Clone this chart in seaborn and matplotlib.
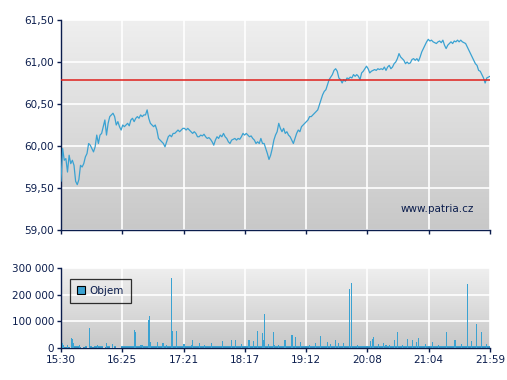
import numpy as np
import pandas as pd
import matplotlib
matplotlib.use("Agg")
import matplotlib.pyplot as plt
import seaborn as sns
from matplotlib.colors import LinearSegmentedColormap
from matplotlib.patches import Patch
from matplotlib.ticker import FuncFormatter

# ---------------- data ----------------
price = [
    59.58, 59.97, 59.83, 59.85, 59.69, 59.89, 59.79, 59.83, 59.77, 59.58,
    59.54, 59.60, 59.77, 59.75, 59.79, 59.87, 59.91, 60.03, 60.01, 59.97,
    59.93, 59.99, 60.13, 60.03, 60.13, 60.15, 60.23, 60.31, 60.13, 60.27,
    60.35, 60.37, 60.39, 60.35, 60.25, 60.29, 60.23, 60.19, 60.25, 60.23,
    60.25, 60.27, 60.24, 60.31, 60.33, 60.29, 60.33, 60.35, 60.33, 60.37,
    60.35, 60.37, 60.37, 60.43, 60.33, 60.27, 60.25, 60.23, 60.25, 60.19,
    60.09, 60.07, 60.05, 60.03, 59.99, 60.05, 60.11, 60.13, 60.11, 60.15,
    60.15, 60.17, 60.19, 60.17, 60.19, 60.21, 60.21, 60.19, 60.21, 60.19,
    60.17, 60.15, 60.17, 60.15, 60.11, 60.11, 60.13, 60.12, 60.14, 60.11,
    60.09, 60.10, 60.08, 60.05, 60.01, 60.07, 60.11, 60.09, 60.13, 60.11,
    60.15, 60.11, 60.09, 60.05, 60.03, 60.07, 60.08, 60.09, 60.07, 60.09,
    60.08, 60.11, 60.15, 60.13, 60.15, 60.13, 60.11, 60.12, 60.09, 60.07,
    60.03, 60.05, 60.03, 60.09, 60.03,
    60.03, 59.97, 59.91, 59.84, 59.89, 59.97, 60.07, 60.13, 60.17, 60.27,
    60.21, 60.17, 60.21, 60.15, 60.17, 60.13, 60.11, 60.07, 60.03, 60.09,
    60.15, 60.19, 60.17, 60.23, 60.25, 60.27, 60.29, 60.31, 60.35, 60.35,
    60.37, 60.39, 60.41, 60.43, 60.49, 60.55, 60.61, 60.65, 60.67, 60.73,
    60.79, 60.82, 60.85, 60.90, 60.92, 60.89, 60.81, 60.79, 60.75, 60.79,
    60.77, 60.81, 60.80, 60.82, 60.81, 60.85, 60.83, 60.85, 60.83, 60.79,
    60.87, 60.89, 60.92, 60.95, 60.92, 60.87, 60.89, 60.90, 60.91, 60.90,
    60.92, 60.91, 60.92, 60.91, 60.94, 60.90, 60.94, 60.96, 60.92, 60.94,
    60.98, 61.00, 61.04, 61.10, 61.06, 61.04, 61.02, 60.98, 61.00, 60.98,
    60.99, 61.03, 61.04, 61.02, 61.04, 61.01, 61.06, 61.12, 61.16, 61.20,
    61.24, 61.27, 61.25, 61.26, 61.24, 61.23, 61.22, 61.24, 61.25, 61.23,
    61.26, 61.20, 61.16, 61.20, 61.22, 61.24, 61.22, 61.25, 61.24, 61.26,
    61.24, 61.26, 61.24, 61.23, 61.22, 61.18, 61.14, 61.10, 61.06, 61.02,
    60.98, 60.96, 60.90, 60.89, 60.85, 60.81, 60.75, 60.81, 60.82, 60.83,
]
ref_price = 60.78

vol_spike_times = [
    "15:31", "15:32", "15:39", "15:40", "15:41", "15:55", "16:11", "16:36",
    "16:37", "16:49", "16:50", "16:51", "16:57", "17:02", "17:10", "17:11",
    "17:14", "17:29", "17:35", "17:46", "17:56", "18:04", "18:08", "18:20",
    "18:24", "18:28", "18:32", "18:33", "18:34", "18:42", "18:52", "18:53",
    "18:59", "19:02", "19:07", "19:20", "19:25", "19:31", "19:38", "19:41",
    "19:46", "19:51", "19:53", "20:10", "20:12", "20:13", "20:22", "20:32",
    "20:35", "20:44", "20:48", "20:52", "20:54", "21:06", "21:19", "21:26",
    "21:27", "21:38", "21:42", "21:46", "21:51",
    "15:35", "15:46", "16:03", "16:16", "16:43", "17:05", "17:21", "17:40",
    "18:13", "18:38", "18:47", "19:15", "19:34", "19:58", "20:17", "20:27",
    "20:39", "21:00", "21:12", "21:33", "21:55",
]
vol_spike_values = [
    19000, 10000, 37000, 34000, 19000, 75000, 19000, 69000,
    61000, 106000, 121000, 24000, 24000, 19000, 264000, 62000,
    62000, 31000, 19000, 19000, 27000, 31000, 31000, 31000,
    25000, 65000, 56000, 31000, 129000, 60000, 31000, 31000,
    50000, 41000, 24000, 19000, 46000, 21000, 31000, 19000,
    17000, 222000, 245000, 27000, 35000, 41000, 19000, 31000,
    61000, 35000, 31000, 24000, 37000, 24000, 61000, 31000,
    31000, 241000, 27000, 91000, 59000,
    12000, 10000, 11000, 14000, 13000, 12000, 15000, 13000,
    16000, 14000, 12000, 13000, 15000, 12000, 14000, 13000,
    12000, 15000, 13000, 14000, 16000,
]
# small trades, thousands of shares per 2-minute slot from 15:30
vol_base_k = [
    6, 4, 3, 5, 0, 6, 8, 6, 4, 0, 5, 7, 0, 6, 5, 8, 7, 9, 6, 0,
    5, 8, 0, 0, 7, 0, 0, 6,
    8, 9, 8, 8, 7, 9, 8, 8, 10, 8, 8, 7, 8, 9, 8, 8, 8, 9, 7, 8,
    8, 8, 9, 8, 8, 7, 8, 8, 9, 8, 8, 10, 8, 8, 7, 8, 9, 8, 8, 8,
    8, 8, 7, 8, 8, 9, 8, 8, 8, 7, 9, 8, 8, 8, 8, 7, 8, 9, 8, 8,
    8, 8, 9, 7, 8, 8, 8, 8, 10, 8, 7, 8, 8, 9, 8, 8, 8, 7, 8, 8,
    9, 8, 8, 8, 7, 8, 8, 9, 8, 8, 8, 7, 8, 8, 9, 8, 8, 8, 8, 7,
    8, 9, 8, 8, 8, 7, 8, 8, 9, 8, 8, 8, 7, 8, 9, 8, 8, 8, 8, 10,
    8, 8, 7, 8, 8, 9, 8, 8, 8, 7, 8, 9, 8, 8, 8, 8, 7, 8, 9, 8,
    8, 8, 8, 7, 8, 9, 8, 8, 8, 8, 8, 7, 8, 9, 8, 8, 8, 8, 7, 8,
    8, 9, 8, 8, 7, 8, 8,
]
time_labels = ["15:30", "16:25", "17:21", "18:17", "19:12", "20:08", "21:04", "21:59"]
price_ticks = [59.0, 59.5, 60.0, 60.5, 61.0, 61.5]
vol_ticks = [0, 100000, 200000, 300000]
series_label = "Objem"
watermark = "www.patria.cz"


def to_min(s):
    h, m = map(int, s.split(":"))
    return h * 60 + m - (15 * 60 + 30)


# ---------------- style ----------------
NAVY = "#0b1d4d"
BLUE = "#3aa2d2"
RED = "#e0201c"

sns.set_theme(style="white")
plt.rcParams["font.family"] = ["DejaVu Sans"]

total = to_min(time_labels[-1])
fig = plt.figure(figsize=(5.07, 3.80), dpi=100)
fig.patch.set_facecolor("white")
ax1 = fig.add_axes([61 / 507, 1 - 230 / 380, 429 / 507, 210 / 380])
ax2 = fig.add_axes([61 / 507, 1 - 348 / 380, 429 / 507, 80 / 380])

cmap = LinearSegmentedColormap.from_list("bg", ["#c8c8c8", "#efefef"])
grad = np.linspace(0, 1, 256).reshape(-1, 1)

price_df = pd.DataFrame({"minute": np.linspace(0, total, len(price)), "price": price})
spike_df = pd.DataFrame({"minute": [to_min(t) + 0.5 for t in vol_spike_times],
                         "volume": vol_spike_values})
base_df = pd.DataFrame({"minute": [2 * i + 1 for i in range(len(vol_base_k))],
                        "volume": [v * 1000 for v in vol_base_k]})

tick_pos = list(np.linspace(0, total, len(time_labels)))

# price panel
ax1.imshow(grad, extent=[0, total, price_ticks[0], price_ticks[-1]], origin="lower",
           aspect="auto", cmap=cmap, zorder=0)
sns.lineplot(data=price_df, x="minute", y="price", ax=ax1, color=BLUE, lw=0.9,
             estimator=None, zorder=3)
ax1.axhline(ref_price, color=RED, lw=1.1, zorder=4)
ax1.set_xlim(0, total)
ax1.set_ylim(price_ticks[0], price_ticks[-1])
ax1.set_yticks(price_ticks)
ax1.set_yticklabels([f"{v:.2f}".replace(".", ",") for v in price_ticks])
ax1.set_xticks(tick_pos)
ax1.set_xticklabels([])
ax1.text(0.963, 0.075, watermark, transform=ax1.transAxes, ha="right", va="bottom",
         color=NAVY, fontsize=7.5, zorder=5)

# volume panel
ax2.imshow(grad, extent=[0, total, vol_ticks[0], vol_ticks[-1]], origin="lower",
           aspect="auto", cmap=cmap, zorder=0)
sns.histplot(data=base_df, x="minute", weights="volume", binwidth=2, binrange=(0, 390),
             color=BLUE, alpha=1, linewidth=0, ax=ax2, zorder=2)
sns.histplot(data=spike_df, x="minute", weights="volume", binwidth=1, binrange=(0, 390),
             color=BLUE, alpha=1, linewidth=0, ax=ax2, zorder=3)
ax2.set_xlim(0, total)
ax2.set_ylim(vol_ticks[0], vol_ticks[-1])
ax2.set_yticks(vol_ticks)
ax2.yaxis.set_major_formatter(FuncFormatter(lambda v, p: f"{int(v):,}".replace(",", " ")))
ax2.set_xticks(tick_pos)
ax2.set_xticklabels(time_labels)
leg = ax2.legend(handles=[Patch(facecolor=BLUE, edgecolor="black", lw=0.8, label=series_label)],
                 loc="upper left", bbox_to_anchor=(0.008, 0.93), frameon=True, fancybox=False,
                 handlelength=0.8, handleheight=0.8, handletextpad=0.4, borderpad=0.7,
                 fontsize=7.5, labelcolor=NAVY)
leg.get_frame().set_edgecolor("black")
leg.get_frame().set_facecolor("none")
leg.get_frame().set_linewidth(0.9)

for ax in (ax1, ax2):
    ax.set_xlabel("")
    ax.set_ylabel("")
    ax.grid(True, color="white", lw=1.2)
    ax.set_axisbelow(True)
    for s in ("top", "right"):
        ax.spines[s].set_visible(False)
    for s in ("left", "bottom"):
        ax.spines[s].set_color(NAVY)
        ax.spines[s].set_linewidth(1.0)
    ax.tick_params(axis="both", which="major", direction="out", length=3, width=1,
                   color=NAVY, labelcolor=NAVY, labelsize=7.5, pad=2,
                   left=True, bottom=True)

fig.savefig("out.png", dpi=100, facecolor="white")
